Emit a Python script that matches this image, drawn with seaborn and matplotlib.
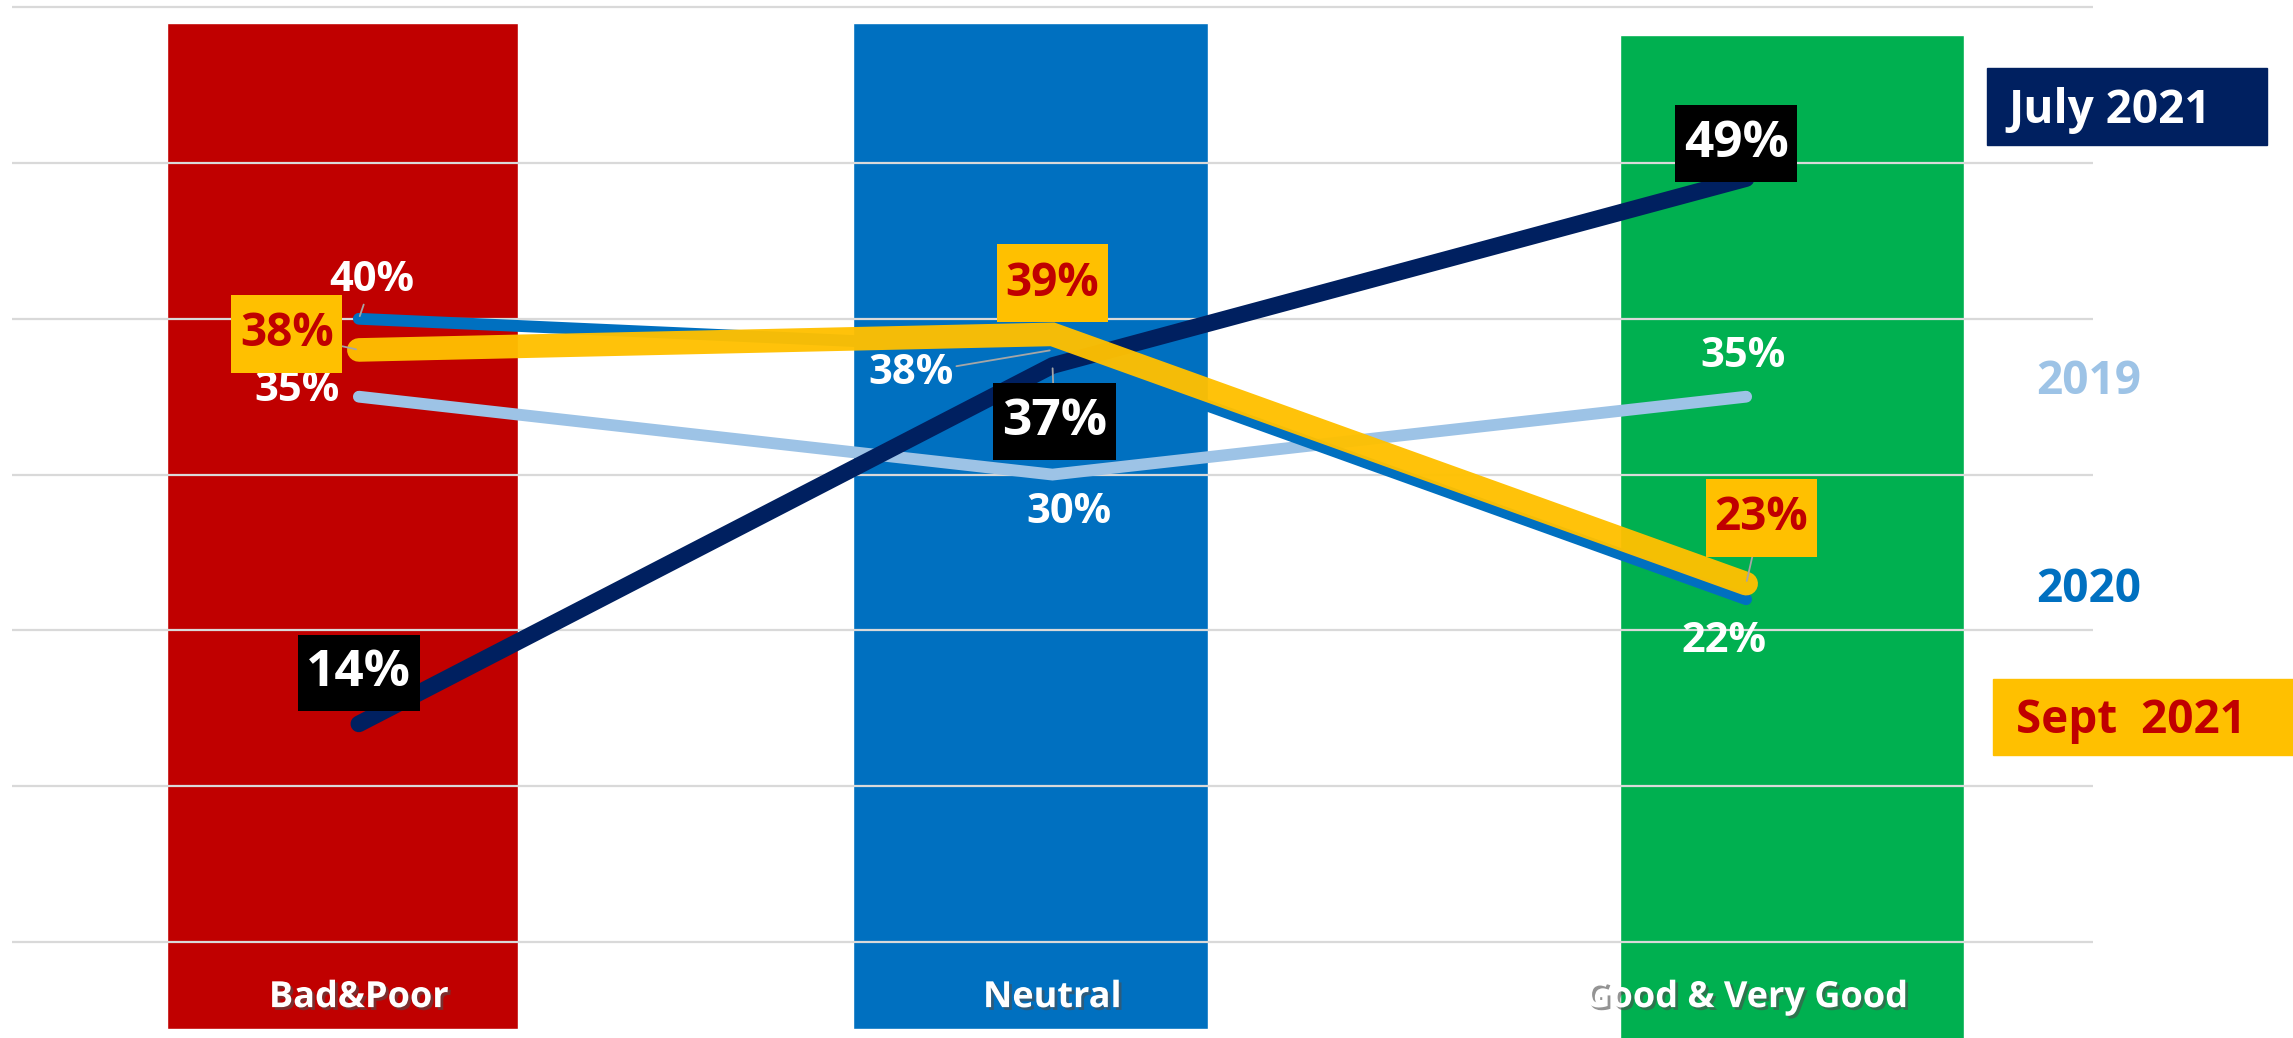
import numpy as np
import pandas as pd
import matplotlib.pyplot as plt
import matplotlib.patheffects as pe
from matplotlib.patches import Rectangle
from matplotlib.path import Path
import seaborn as sns

# data
categories = ['Bad&Poor', 'Neutral', 'Good & Very Good']
series = ['2019', '2020', 'July 2021', 'Sept  2021']
v2019 = [35, 30, 35]
v2020 = [40, 38, 22]
vjul21 = [14, 37, 49]
vsep21 = [38, 39, 23]

# coloured background bands behind each category
band_top = [59.0, 59.0, 58.2]
band_bottom = [-5.6, -5.6, -6.2]

# layout / style
band_shift = [-0.024, -0.032, 0.066]
band_width = [0.506, 0.512, 0.496]
band_colors = ['#C00000', '#0070C0', '#00B050']
line_colors = ['#9DC3E6', '#0070C0', '#002060', '#FFC000']
line_widths = [8.5, 8.5, 12, 17]
W, H = 2293, 1038

df = pd.DataFrame({
    'x': np.tile(np.arange(len(categories)), len(series)),
    'value': v2019 + v2020 + vjul21 + vsep21,
    'series': np.repeat(series, len(categories)),
})

sns.set_style('white')
plt.rcParams['font.family'] = ['Open Sans', 'DejaVu Sans']

fig = plt.figure(figsize=(W / 100, H / 100), dpi=100)
ax = fig.add_axes([12 / W, 0, 2081 / W, 1])

# background bands
xpos = np.arange(len(categories)) + np.array(band_shift)
heights = np.array(band_top) - np.array(band_bottom)
ax.bar(xpos, heights, bottom=band_bottom, width=band_width, color=band_colors, zorder=1)

# lines
for i, s in enumerate(series):
    sns.lineplot(data=df[df['series'] == s], x='x', y='value', color=line_colors[i],
                 lw=line_widths[i], ax=ax, errorbar=None, legend=False,
                 solid_capstyle='round', solid_joinstyle='miter',
                 alpha=0.96 if i == 3 else 1, zorder=3 + i)

ax.set_xlim(-0.5, 2.5)
ax.set_ylim(-6.16, 60.46)
ax.set_yticks(range(0, 61, 10))
ax.set_axisbelow('line')
ax.yaxis.grid(True, color='#D9D9D9', lw=1.6)
ax.xaxis.grid(False)
ax.set_xticks([])
ax.set_yticklabels([])
ax.tick_params(length=0)
ax.set_xlabel('')
ax.set_ylabel('')
for sp in ax.spines.values():
    sp.set_visible(False)


def boxer(padx, pady):
    # rectangle box with separate horizontal / vertical padding
    def style(x0, y0, width, height, mutation_size):
        px, py = padx * mutation_size, pady * mutation_size
        x0, y0 = x0 - px, y0 - py
        x1, y1 = x0 + width + 2 * px, y0 + height + 2 * py
        return Path([(x0, y0), (x1, y0), (x1, y1), (x0, y1), (x0, y0)], closed=True)
    return style


# data labels
lead = dict(arrowstyle='-', color='#A6A6A6', lw=1.3, shrinkA=0, shrinkB=2)

def label(vals, offs, leaders, color, size, box=None, pads=(0.12, 0.12)):
    for i, v in enumerate(vals):
        ax.annotate(f'{v}%', xy=(i, v), xytext=offs[i], textcoords='offset pixels',
                    ha='center', va='center', color=color, fontsize=size,
                    fontweight='bold', zorder=10,
                    bbox=dict(boxstyle=boxer(*pads), fc=box, ec='none') if box else None,
                    arrowprops=lead if leaders[i] else None)

label(v2019, [(-62, 6), (16, -38), (-3, 40)], [False, False, False], 'white', 30)
label(v2020, [(13, 38), (-142, -24), (-22, -42)], [True, True, False], 'white', 30)
label(vjul21, [(0, 51), (2, -56), (-10, 35)], [False, True, False], 'white', 37,
      box='black', pads=(0.17, 0.26))
label(vsep21, [(-72, 16), (0, 51), (15, 66)], [True, False, True], '#C00000', 33,
      box='#FFC000', pads=(0.19, 0.34))

# category labels inside the bands
for i, c in enumerate(categories):
    ax.text(i, -3.6, c, ha='center', va='center', color='white', fontsize=26,
            fontweight='bold', zorder=10,
            path_effects=[pe.withSimplePatchShadow(offset=(2, -2), alpha=0.6)])

# series names on the right
fig.add_artist(Rectangle((1987 / W, 1 - 145 / H), 280 / W, 77 / H,
                         transform=fig.transFigure, color='#002060'))
fig.text(2008 / W, 1 - 110 / H, 'July 2021', color='white', fontsize=33,
         fontweight='bold', va='center', ha='left')
fig.text(2089 / W, 1 - 381 / H, '2019', color='#9DC3E6', fontsize=33,
         fontweight='bold', va='center', ha='center')
fig.text(2089 / W, 1 - 589 / H, '2020', color='#0070C0', fontsize=33,
         fontweight='bold', va='center', ha='center')
fig.add_artist(Rectangle((1993 / W, 1 - 755 / H), 300 / W, 76 / H,
                         transform=fig.transFigure, color='#FFC000'))
fig.text(2016 / W, 1 - 721 / H, 'Sept  2021', color='#C00000', fontsize=33,
         fontweight='bold', va='center', ha='left')

plt.savefig('out.png', dpi=100)
